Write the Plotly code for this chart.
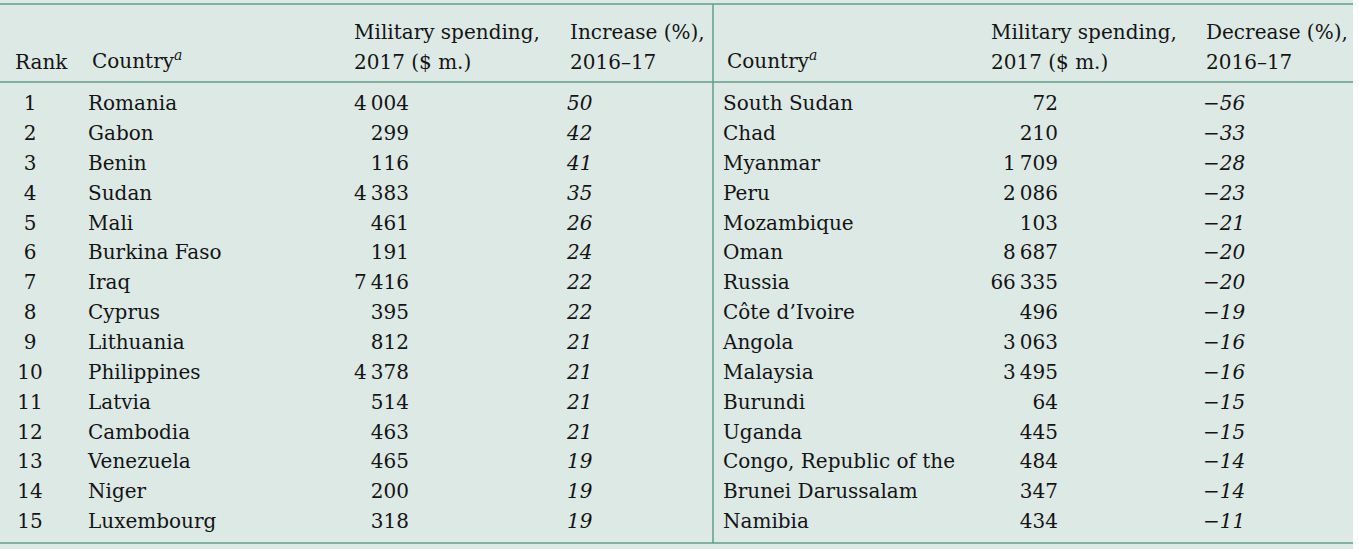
import plotly.graph_objects as go

# ---- data ----
ranks = list(range(1, 16))
inc_countries = ["Romania", "Gabon", "Benin", "Sudan", "Mali", "Burkina Faso", "Iraq", "Cyprus",
                 "Lithuania", "Philippines", "Latvia", "Cambodia", "Venezuela", "Niger", "Luxembourg"]
inc_spending = [4004, 299, 116, 4383, 461, 191, 7416, 395, 812, 4378, 514, 463, 465, 200, 318]
inc_change = [50, 42, 41, 35, 26, 24, 22, 22, 21, 21, 21, 21, 19, 19, 19]
dec_countries = ["South Sudan", "Chad", "Myanmar", "Peru", "Mozambique", "Oman", "Russia", "Côte d’Ivoire",
                 "Angola", "Malaysia", "Burundi", "Uganda", "Congo, Republic of the", "Brunei Darussalam", "Namibia"]
dec_spending = [72, 210, 1709, 2086, 103, 8687, 66335, 496, 3063, 3495, 64, 445, 484, 347, 434]
dec_change = [-56, -33, -28, -23, -21, -20, -20, -19, -16, -16, -15, -15, -14, -14, -11]

header_top = ["", "", "Military spending,", "Increase (%),", "", "Military spending,", "Decrease (%),"]
header_bottom = ["Rank", "Country<sup><i>a</i></sup>", "2017 ($ m.)", "2016–17",
                 "Country<sup><i>a</i></sup>", "2017 ($ m.)", "2016–17"]

BG = "#dde9e5"
RULE = "#5f9e8c"
INK = "#141414"
FONT = "DejaVu Serif"
FS = 20

ROW0 = 103.0    # pixel centre of first row
STEP = 29.86    # pixel row pitch
H = 549


def r(py):
    """pixel y -> row units"""
    return (py - ROW0) / STEP


def fmt_num(v):
    return f"{v:,}".replace(",", "\u2009")


def fmt_pct(v):
    s = str(abs(v))
    return ("\u2212" + s) if v < 0 else s


rows = [i + 0.07 for i in range(len(ranks))]
fig = go.Figure()


def col(x, texts, pos, italic=False):
    t = [f"<i>{s}</i>" for s in texts] if italic else texts
    fig.add_trace(go.Scatter(x=[x] * len(t), y=rows, mode="text", text=t, textposition=pos,
                             textfont=dict(family=FONT, size=FS, color=INK),
                             hoverinfo="skip", showlegend=False, cliponaxis=False))


col(30, [str(v) for v in ranks], "middle center")
col(88, inc_countries, "middle right")
col(409, [fmt_num(v) for v in inc_spending], "middle left")
col(567, [fmt_pct(v) for v in inc_change], "middle right", italic=True)
col(723, dec_countries, "middle right")
col(1058, [fmt_num(v) for v in dec_spending], "middle left")
col(1203, [fmt_pct(v) for v in dec_change], "middle right", italic=True)

# headers
annots = []
hx = [13, 90, 352, 568, 725, 989, 1204]
for x, t1, t2 in zip(hx, header_top, header_bottom):
    if t1:
        annots.append(dict(x=x, y=r(31.5), xref="x", yref="y", text=t1, showarrow=False,
                           xanchor="left", yanchor="middle", align="left",
                           font=dict(family=FONT, size=FS, color=INK)))
    yb = 59.5 if "<sup>" in t2 else 61.5
    annots.append(dict(x=x, y=r(yb), xref="x", yref="y", text=t2, showarrow=False,
                       xanchor="left", yanchor="middle", align="left",
                       font=dict(family=FONT, size=FS, color=INK)))

shapes = [
    dict(type="rect", x0=0, x1=1353, y0=r(0), y1=r(H), xref="x", yref="y",
         fillcolor=BG, line=dict(width=0), layer="below"),
    dict(type="line", x0=0, x1=1353, y0=r(4), y1=r(4), xref="x", yref="y", line=dict(color=RULE, width=1.5)),
    dict(type="line", x0=0, x1=1353, y0=r(82), y1=r(82), xref="x", yref="y", line=dict(color=RULE, width=1.5)),
    dict(type="line", x0=0, x1=1353, y0=r(543), y1=r(543), xref="x", yref="y", line=dict(color=RULE, width=1.5)),
    dict(type="line", x0=713, x1=713, y0=r(4), y1=r(543), xref="x", yref="y", line=dict(color=RULE, width=1.5)),
]

fig.update_layout(
    width=1359, height=H,
    margin=dict(l=0, r=0, t=0, b=0),
    paper_bgcolor="white", plot_bgcolor="white",
    xaxis=dict(range=[0, 1359], visible=False, fixedrange=True),
    yaxis=dict(range=[r(H), r(0)], visible=False, fixedrange=True),
    shapes=shapes, annotations=annots,
)

fig.write_html("out.html", config={"displayModeBar": False},
               post_script="document.body.style.margin='0';document.body.style.overflow='hidden';")
